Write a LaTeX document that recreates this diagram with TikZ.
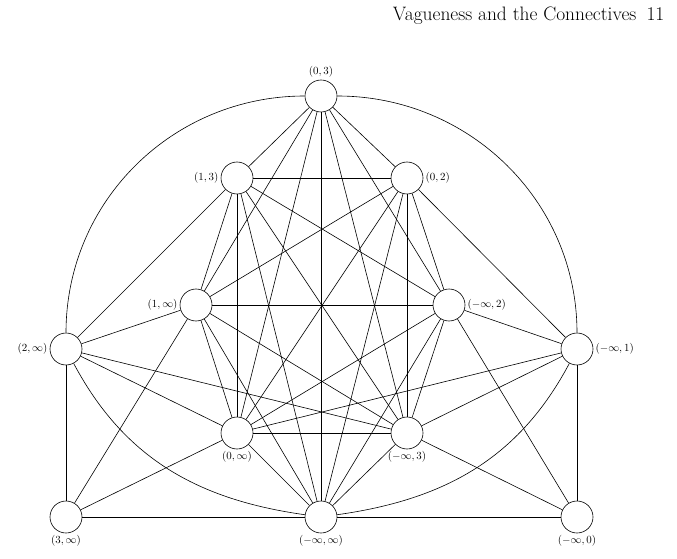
\documentclass[tikz,border=0pt]{standalone}
\begin{document}
\begin{tikzpicture}[x=1bp,y=-1bp,line width=0.6bp,
  v/.style={circle,draw,minimum size=32bp,inner sep=0pt},
  lab/.style={font=\fontsize{11}{13}\selectfont,inner sep=2bp}]
\useasboundingbox (0,0) rectangle (677,559);
\node[anchor=base east,font=\fontsize{19.5}{22}\selectfont] (hdr) at (640,21) {Vagueness and the Connectives};
\node[anchor=base east,font=\fontsize{19.5}{22}\selectfont] (pg) at (668,21) {11};
\node[v,label={[lab]above:$(0,3)$}] (A) at (321,96) {};
\node[v,label={[lab]left:$(1,3)$}] (B) at (237,178) {};
\node[v,label={[lab]right:$(0,2)$}] (C) at (407,178) {};
\node[v,label={[lab]left:$(1,\infty)$}] (D) at (196,305) {};
\node[v,label={[lab]right:$(-\infty,2)$}] (E) at (449,305) {};
\node[v,label={[lab]left:$(2,\infty)$}] (F) at (66,349) {};
\node[v,label={[lab]right:$(-\infty,1)$}] (G) at (577,349) {};
\node[v,label={[lab]below:$(0,\infty)$}] (H) at (237,433) {};
\node[v,label={[lab]below:$(-\infty,3)$}] (I) at (407,433) {};
\node[v,label={[lab]below:$(3,\infty)$}] (J) at (66,517) {};
\node[v,label={[lab]below:$(-\infty,\infty)$}] (K) at (321,517) {};
\node[v,label={[lab]below:$(-\infty,0)$}] (L) at (577,517) {};
\foreach \a/\b in {A/B,A/C,A/D,A/E,A/H,A/I,A/K,B/C,B/D,B/E,B/H,B/I,B/K,C/D,C/E,C/H,C/I,C/K,
  D/E,D/H,D/I,D/K,E/H,E/I,E/K,H/I,H/K,I/K,
  F/B,F/D,F/H,F/I,G/C,G/E,G/I,G/H,J/F,J/K,J/D,J/H,L/G,L/K,L/E,L/I}
  \draw (\a) -- (\b);
\draw (A.west) .. controls (173,96) and (66,201) .. (F.north);
\draw (A.east) .. controls (469,96) and (577,201) .. (G.north);
\draw (F) to[out=-62,in=172] (K);
\draw (G) to[out=-118,in=8] (K);
\end{tikzpicture}
\end{document}
